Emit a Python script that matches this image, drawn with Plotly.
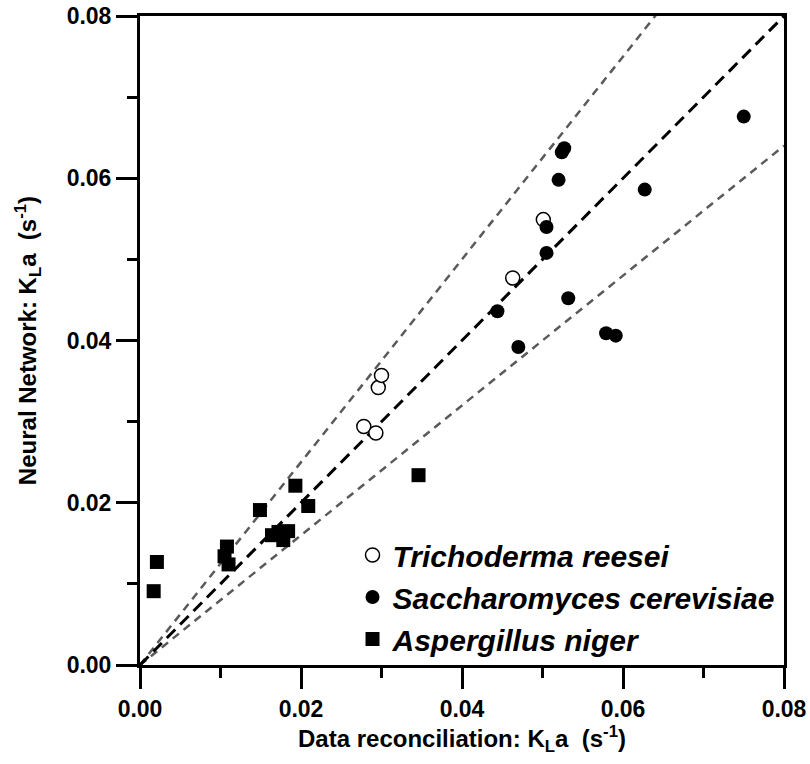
import plotly.graph_objects as go

# Trichoderma reesei (open circles)
tr_x = [0.0278, 0.0293, 0.0296, 0.0300, 0.0463, 0.0501]
tr_y = [0.0294, 0.0286, 0.0342, 0.0357, 0.0477, 0.0549]

# Saccharomyces cerevisiae (filled circles)
sc_x = [0.0444, 0.0470, 0.0505, 0.0505, 0.0520, 0.0524, 0.0527, 0.0532, 0.0579, 0.0591, 0.0627, 0.0750]
sc_y = [0.0436, 0.0392, 0.0508, 0.0540, 0.0598, 0.0632, 0.0637, 0.0452, 0.0409, 0.0406, 0.0586, 0.0676]

# Aspergillus niger (filled squares)
an_x = [0.0017, 0.0021, 0.0105, 0.0108, 0.0110, 0.0149, 0.0164, 0.0172, 0.0178, 0.0184, 0.0193, 0.0209, 0.0346]
an_y = [0.0091, 0.0127, 0.0134, 0.0146, 0.0124, 0.0191, 0.0160, 0.0164, 0.0154, 0.0165, 0.0221, 0.0196, 0.0234]

# reference lines
line_x = [0.0, 0.08]
slope_mid = 1.0
slope_up = 1.25
slope_low = 0.8

tick_vals = [0.00, 0.02, 0.04, 0.06, 0.08]
tick_text = ["0.00", "0.02", "0.04", "0.06", "0.08"]

FONT = "Liberation Sans, Arial, sans-serif"

fig = go.Figure()

fig.add_trace(go.Scatter(x=line_x, y=[slope_up * v for v in line_x], mode="lines",
                         line=dict(color="#5a5a5a", width=2.5, dash="8px,6px"),
                         showlegend=False, hoverinfo="skip"))
fig.add_trace(go.Scatter(x=line_x, y=[slope_low * v for v in line_x], mode="lines",
                         line=dict(color="#5a5a5a", width=2.5, dash="8px,6px"),
                         showlegend=False, hoverinfo="skip"))
fig.add_trace(go.Scatter(x=line_x, y=[slope_mid * v for v in line_x], mode="lines",
                         line=dict(color="black", width=3, dash="12px,7px"),
                         showlegend=False, hoverinfo="skip"))

fig.add_trace(go.Scatter(x=tr_x, y=tr_y, mode="markers", name="Trichoderma reesei",
                         marker=dict(symbol="circle", size=14, color="white",
                                     line=dict(color="black", width=1.5))))
fig.add_trace(go.Scatter(x=sc_x, y=sc_y, mode="markers", name="Saccharomyces cerevisiae",
                         marker=dict(symbol="circle", size=14, color="black",
                                     line=dict(color="black", width=0))))
fig.add_trace(go.Scatter(x=an_x, y=an_y, mode="markers", name="Aspergillus niger",
                         marker=dict(symbol="square", size=14, color="black",
                                     line=dict(color="black", width=0))))

axis_common = dict(
    range=[0, 0.08], tickvals=tick_vals, ticktext=tick_text,
    showgrid=False, zeroline=False, automargin=False,
    showline=True, linecolor="black", linewidth=3, mirror=True,
    ticks="outside", ticklen=21, tickwidth=3, tickcolor="black",
    ticklabeloverflow="allow",
    tickfont=dict(family=FONT, size=23, color="black", weight="bold"),
    minor=dict(ticks="outside", ticklen=10, tickwidth=3, tickcolor="black", dtick=0.01, tick0=0),
)

fig.update_layout(
    width=810, height=764,
    margin=dict(l=140, r=26, t=16, b=99),
    paper_bgcolor="white", plot_bgcolor="white",
    xaxis=dict(**axis_common,
               title=dict(text="Data reconciliation: K<sub>L</sub>a  (s<sup>-1</sup>)",
                          font=dict(family=FONT, size=24, color="black", weight="bold"),
                          standoff=10)),
    yaxis=dict(**axis_common,
               title=dict(text="Neural Network: K<sub>L</sub>a  (s<sup>-1</sup>)",
                          font=dict(family=FONT, size=24, color="black", weight="bold"),
                          standoff=24)),
    legend=dict(x=0.33, y=0.0, xanchor="left", yanchor="bottom",
                bgcolor="rgba(0,0,0,0)", borderwidth=0,
                font=dict(family=FONT, size=30, color="black", weight="bold", style="italic"),
                itemsizing="trace"),
    showlegend=True,
)

fig.write_html("out.html",
               config={"displayModeBar": False},
               post_script="document.body.style.margin='0';document.body.style.overflow='hidden';")
